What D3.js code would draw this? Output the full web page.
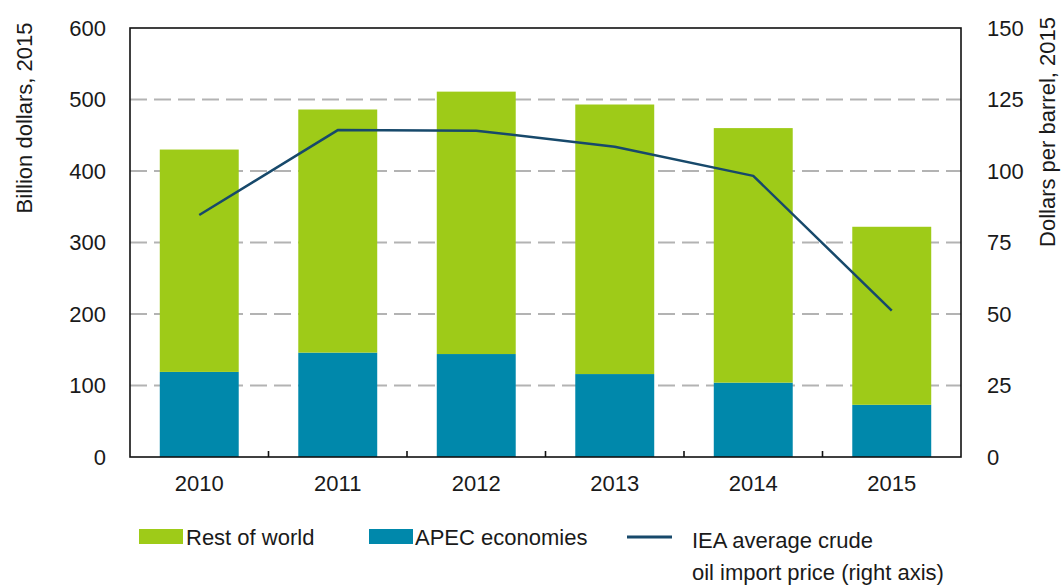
<!DOCTYPE html>
<html>
<head>
<meta charset="utf-8">
<script src="https://cdn.jsdelivr.net/npm/d3@7"></script>
<style>
  html, body { margin: 0; padding: 0; background: #fff; }
  svg text { font-family: "Liberation Sans", Arial, sans-serif; fill: #1a1a1a; }
</style>
</head>
<body>
<svg id="chart" width="1062" height="586"></svg>
<script>
const years = ["2010", "2011", "2012", "2013", "2014", "2015"];
const apec = [119, 146, 144, 116, 104, 73];
const restOfWorld = [311, 340, 367, 377, 356, 249];
const oilPrice = [84.6, 114.3, 114.1, 108.5, 98.3, 51.2];
const leftTicks = [0, 100, 200, 300, 400, 500, 600];
const rightTicks = [0, 25, 50, 75, 100, 125, 150];
const seriesNames = ["Rest of world", "APEC economies", "IEA average crude", "oil import price (right axis)"];
const colors = { rest: "#9ecb18", apec: "#0088ab", line: "#17496b", grid: "#b3b3b3" };

const svg = d3.select("#chart");
const L = 130, R = 961, T = 28, B = 457;

const x = d3.scaleBand().domain(years).range([L, R]).paddingInner(0.43).paddingOuter(0.215);
const y = d3.scaleLinear().domain([0, 600]).range([B, T]);
const y2 = d3.scaleLinear().domain([0, 150]).range([B, T]);

// gridlines
svg.append("g").selectAll("line").data(leftTicks.filter(d => d > 0 && d < 600)).join("line")
  .attr("x1", L).attr("x2", R).attr("y1", d => y(d)).attr("y2", d => y(d))
  .attr("stroke", colors.grid).attr("stroke-width", 2).attr("stroke-dasharray", "17,7");

// stacked bars
const data = years.map((yr, i) => ({ year: yr, apec: apec[i], rest: restOfWorld[i] }));
const stack = d3.stack().keys(["apec", "rest"])(data);
svg.append("g").selectAll("g").data(stack).join("g")
  .attr("fill", d => colors[d.key])
  .selectAll("rect").data(d => d).join("rect")
  .attr("x", d => x(d.data.year)).attr("width", x.bandwidth())
  .attr("y", d => y(d[1])).attr("height", d => y(d[0]) - y(d[1]));

// line
const line = d3.line().x((d, i) => x(years[i]) + x.bandwidth() / 2).y(d => y2(d));
svg.append("path").datum(oilPrice).attr("d", line)
  .attr("fill", "none").attr("stroke", colors.line).attr("stroke-width", 2.5).attr("stroke-linejoin", "round");

// frame
svg.append("rect").attr("x", L).attr("y", T).attr("width", R - L).attr("height", B - T)
  .attr("fill", "none").attr("stroke", "#111").attr("stroke-width", 1.6);

// x category boundary ticks
const step = x.step();
svg.append("g").selectAll("line").data(years.slice(1)).join("line")
  .attr("x1", d => x(d) - x.paddingInner() * step / 2).attr("x2", d => x(d) - x.paddingInner() * step / 2)
  .attr("y1", B).attr("y2", B - 6).attr("stroke", "#111").attr("stroke-width", 1.6);

// axes (labels only)
const leftAxis = d3.axisLeft(y).tickValues(leftTicks).tickSize(0).tickPadding(24);
const gL = svg.append("g").attr("transform", `translate(${L},0)`).call(leftAxis);
const rightAxis = d3.axisRight(y2).tickValues(rightTicks).tickSize(0).tickPadding(26);
const gR = svg.append("g").attr("transform", `translate(${R},0)`).call(rightAxis);
const bottomAxis = d3.axisBottom(x).tickSize(0).tickPadding(18);
const gB = svg.append("g").attr("transform", `translate(0,${B})`).call(bottomAxis);
[gL, gR, gB].forEach(g => {
  g.select(".domain").remove();
  g.selectAll("text").style("font-size", "22px").attr("fill", "#1a1a1a")
    .style("font-family", '"Liberation Sans", Arial, sans-serif');
});

// axis titles
svg.append("text").attr("transform", `translate(32,118) rotate(-90)`).attr("text-anchor", "middle")
  .style("font-size", "22px").text("Billion dollars, 2015");
svg.append("text").attr("transform", `translate(1055,132) rotate(-90)`).attr("text-anchor", "middle")
  .style("font-size", "22px").text("Dollars per barrel, 2015");

// legend
const lg = svg.append("g");
lg.append("rect").attr("x", 139).attr("y", 529).attr("width", 44).attr("height", 15).attr("fill", colors.rest);
lg.append("text").attr("x", 186).attr("y", 545).style("font-size", "22px").text(seriesNames[0]);
lg.append("rect").attr("x", 369).attr("y", 529).attr("width", 44).attr("height", 15).attr("fill", colors.apec);
lg.append("text").attr("x", 415).attr("y", 545).style("font-size", "22px").text(seriesNames[1]);
lg.append("line").attr("x1", 627).attr("x2", 672).attr("y1", 537).attr("y2", 537)
  .attr("stroke", colors.line).attr("stroke-width", 3);
lg.append("text").attr("x", 692).attr("y", 548).style("font-size", "22px").text(seriesNames[2]);
lg.append("text").attr("x", 692).attr("y", 580).style("font-size", "22px").text(seriesNames[3]);
</script>
</body>
</html>
